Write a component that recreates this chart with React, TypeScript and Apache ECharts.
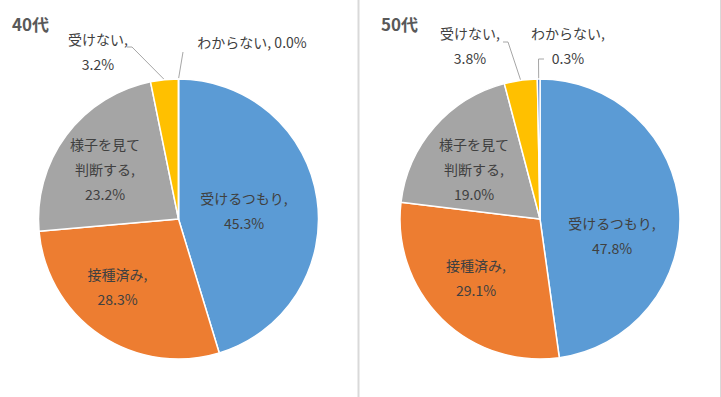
import React, { useEffect, useRef } from 'react';
import * as echarts from 'echarts';

const categories = ['受けるつもり', '接種済み', '様子を見て判断する', '受けない', 'わからない'];
const groups = ['40代', '50代'];
const values40 = [45.3, 28.3, 23.2, 3.2, 0.0];
const values50 = [47.8, 29.1, 19.0, 3.8, 0.3];
const seriesValues = [values40, values50];
const colors = ['#5B9BD5', '#ED7D31', '#A5A5A5', '#FFC000', '#4472C4'];

const FONT = '"Noto Sans CJK JP", "Noto Sans", sans-serif';
const TEXT = '#404040';

// layout config (label centres) per chart
const labelPos: number[][][] = [
  [[244, 210.5], [117.5, 286], [105, 169], [98, 51], [252, 42]],
  [[612, 235.5], [476, 277], [474, 169], [470, 45.5], [568, 45.5]],
];
// leader-line bend / end points for outside labels
const linePts: Record<string, number[][]> = {
  '0-3': [[132, 47], [127, 47]],
  '0-4': [[183, 52], [183, 52]],
  '1-3': [[508, 42], [503, 42]],
  '1-4': [[538.5, 59], [544, 59]],
};
const centers = [[178.5, 219], [540, 219]];

function labelText(si: number, idx: number, name: string, v: number): string {
  const pct = v.toFixed(1) + '%';
  if (name === '様子を見て判断する') return '様子を見て\n判断する,\n' + pct;
  if (si === 0 && idx === 4) return name + ', ' + pct;
  return name + ',\n' + pct;
}

export default function App() {
  const ref = useRef<HTMLDivElement>(null);
  useEffect(() => {
    if (!ref.current) return;
    const chart = echarts.init(ref.current, undefined, { renderer: 'svg' });
    const series = seriesValues.map((vals, si) => ({
      type: 'pie',
      center: centers[si],
      radius: 140,
      startAngle: 90,
      clockwise: true,
      avoidLabelOverlap: false,
      minShowLabelAngle: -1,
      itemStyle: { borderColor: '#ffffff', borderWidth: 1.5 },
      label: {
        show: true,
        position: 'inside',
        color: TEXT,
        fontSize: 14,
        lineHeight: 25,
        fontFamily: FONT,
        align: 'center',
        formatter: (p: any) => labelText(si, p.dataIndex, p.name, p.value),
      },
      labelLine: { show: true, lineStyle: { color: '#a6a6a6', width: 1 }, length: 10, length2: 5 },
      labelLayout: (p: any) => {
        const pos = labelPos[si][p.dataIndex];
        const out: any = { x: pos[0], y: pos[1], align: 'center', verticalAlign: 'middle' };
        const key = si + '-' + p.dataIndex;
        if (linePts[key] && p.labelLinePoints && p.labelLinePoints[0]) {
          out.labelLinePoints = [p.labelLinePoints[0], ...linePts[key]];
        }
        return out;
      },
      data: categories.map((c, i) => ({
        name: c,
        value: vals[i],
        itemStyle: { color: colors[i] },
        label: i >= 3 ? { position: 'outside' } : undefined,
        labelLine: i >= 3 ? { show: true } : { show: false },
      })),
    }));
    chart.setOption({
      animation: false,
      backgroundColor: '#ffffff',
      title: groups.map((g, i) => ({
        text: g,
        left: i === 0 ? 12 : 381,
        top: 15,
        padding: 0,
        textStyle: { fontSize: 17, fontWeight: 'bold', color: '#595959', fontFamily: FONT },
      })),
      graphic: [
        { type: 'line', shape: { x1: 358.5, y1: 0, x2: 358.5, y2: 397 }, style: { stroke: '#d9d9d9', lineWidth: 2 } },
        { type: 'line', shape: { x1: 720.5, y1: 0, x2: 720.5, y2: 397 }, style: { stroke: '#d9d9d9', lineWidth: 1 } },
      ],
      series,
    } as any);
    return () => chart.dispose();
  }, []);
  return (
    <div
      ref={ref}
      style={{ position: 'fixed', left: 0, top: 0, width: 721, height: 397, background: '#fff' }}
    />
  );
}
